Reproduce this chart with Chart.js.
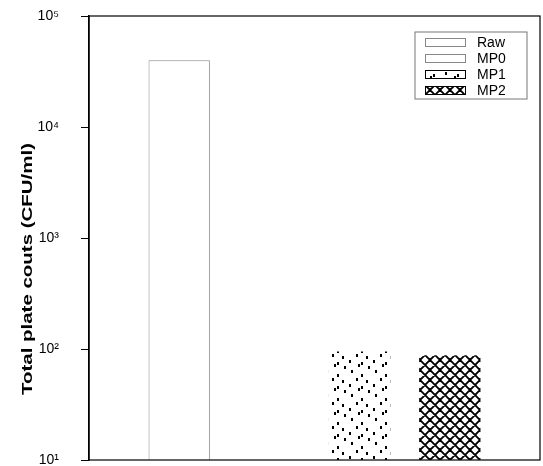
<!DOCTYPE html>
<html>
<head>
<meta charset="utf-8">
<script src="https://cdn.jsdelivr.net/npm/chart.js@4.4.1/dist/chart.umd.min.js"></script>
<style>
  html, body { margin: 0; padding: 0; background: #fff; }
  #wrap { width: 543px; height: 466px; position: relative; }
</style>
</head>
<body>
<div id="wrap"><canvas id="c" width="543" height="466"></canvas></div>
<script>
// ---- data ----
const slots = ['', 'Raw', 'MP0', 'MP1', 'MP2', ''];
const seriesNames = ['Raw', 'MP0', 'MP1', 'MP2'];
const seriesValues = [40000, 10, 95, 88];
const yTickLabels = ['10¹', '10²', '10³', '10⁴', '10⁵'];
const yTitle = 'Total plate couts (CFU/ml)';

// ---- patterns ----
function makePattern(kind) {
  const c = document.createElement('canvas');
  const ctx = c.getContext('2d');
  if (kind === 'dots') {
    c.width = 24; c.height = 24;
    ctx.fillStyle = '#fff'; ctx.fillRect(0, 0, 24, 24);
    ctx.fillStyle = '#000';
    const pts = [[1,2],[1,14],[8,6],[15,10],[20,18],[6,20],[13,0],[22,4]];
    pts.forEach(p => ctx.fillRect(p[0], p[1], 2, 3));
  } else if (kind === 'cross') {
    c.width = 10; c.height = 10;
    ctx.fillStyle = '#fff'; ctx.fillRect(0, 0, 10, 10);
    ctx.strokeStyle = '#000'; ctx.lineWidth = 1.9;
    ctx.beginPath();
    ctx.moveTo(-2, -2); ctx.lineTo(12, 12);
    ctx.moveTo(-2, 12); ctx.lineTo(12, -2);
    ctx.moveTo(3, -2); ctx.lineTo(-2, 3);
    ctx.moveTo(12, 7); ctx.lineTo(7, 12);
    ctx.moveTo(-2, 7); ctx.lineTo(3, 12);
    ctx.moveTo(7, -2); ctx.lineTo(12, 3);
    ctx.stroke();
  }
  return c.getContext('2d').createPattern(c, 'repeat');
}
const fills = ['#ffffff', '#ffffff', makePattern('dots'), makePattern('cross')];
const borders = ['#8a8a8a', '#8a8a8a', 'rgba(0,0,0,0)', 'rgba(0,0,0,0)'];

const datasets = seriesNames.map((name, i) => {
  const data = slots.map(s => (s === name ? seriesValues[i] : null));
  return {
    label: name,
    data: data,
    backgroundColor: fills[i],
    borderColor: borders[i],
    borderWidth: i < 2 ? 1 : 0,
    grouped: false,
    barPercentage: 0.85,
    categoryPercentage: 0.8
  };
});

const boxPlugin = {
  id: 'boxAndLegend',
  afterDraw(chart) {
    const { ctx, chartArea: a } = chart;
    ctx.save();
    ctx.strokeStyle = '#000';
    ctx.lineWidth = 1.2;
    ctx.strokeRect(a.left, a.top, a.right - a.left, a.bottom - a.top);
    // y-axis title (stretched along its length like the scanned original)
    ctx.save();
    ctx.font = 'bold 14px "Liberation Sans", Arial, sans-serif';
    const w = ctx.measureText(yTitle).width;
    ctx.translate(28, 269);
    ctx.rotate(-Math.PI / 2);
    ctx.scale(252 / w, 1);
    ctx.textAlign = 'center';
    ctx.textBaseline = 'middle';
    ctx.fillStyle = '#000';
    ctx.fillText(yTitle, 0, 0);
    ctx.restore();
    // legend
    const lx = 415, ly = 32, lw = 112, lh = 67;
    ctx.lineWidth = 1;
    ctx.strokeStyle = '#777';
    ctx.strokeRect(lx, ly, lw, lh);
    ctx.font = '14px "Liberation Sans", Arial, sans-serif';
    ctx.textBaseline = 'middle';
    chart.data.datasets.forEach((ds, i) => {
      const y = 42 + i * 16;
      ctx.fillStyle = ds.backgroundColor;
      ctx.fillRect(425, y - 4, 40, 9);
      ctx.strokeStyle = i < 2 ? '#888' : '#000';
      ctx.lineWidth = 1;
      ctx.strokeRect(425.5, y - 3.5, 40, 8);
      ctx.fillStyle = '#000';
      ctx.fillText(ds.label, 477, y + 1);
    });
    ctx.restore();
  }
};

new Chart(document.getElementById('c'), {
  type: 'bar',
  data: { labels: slots, datasets: datasets },
  options: {
    responsive: false,
    animation: false,
    layout: { padding: { top: 16, right: 3, bottom: 6, left: 0 } },
    plugins: { legend: { display: false }, tooltip: { enabled: false } },
    scales: {
      x: {
        type: 'category',
        offset: false,
        display: false
      },
      y: {
        type: 'logarithmic',
        min: 10,
        max: 100000,
        border: { display: true, color: '#000', width: 1.5 },
        grid: { display: true, drawOnChartArea: false, drawTicks: true, tickLength: 8, color: '#000' },
        afterBuildTicks(axis) {
          axis.ticks = [10, 100, 1000, 10000, 100000].map(v => ({ value: v }));
        },
        ticks: {
          color: '#000',
          padding: 22,
          font: { family: '"Liberation Sans", Arial, sans-serif', size: 14 },
          callback(v) {
            const e = Math.round(Math.log10(v));
            return yTickLabels[e - 1];
          }
        },
        title: { display: false },
        afterFit(axis) {
          axis.width = 89;
          axis.paddingTop = 0;
          axis.paddingBottom = 0;
        }
      }
    }
  },
  plugins: [boxPlugin]
});
</script>
</body>
</html>
